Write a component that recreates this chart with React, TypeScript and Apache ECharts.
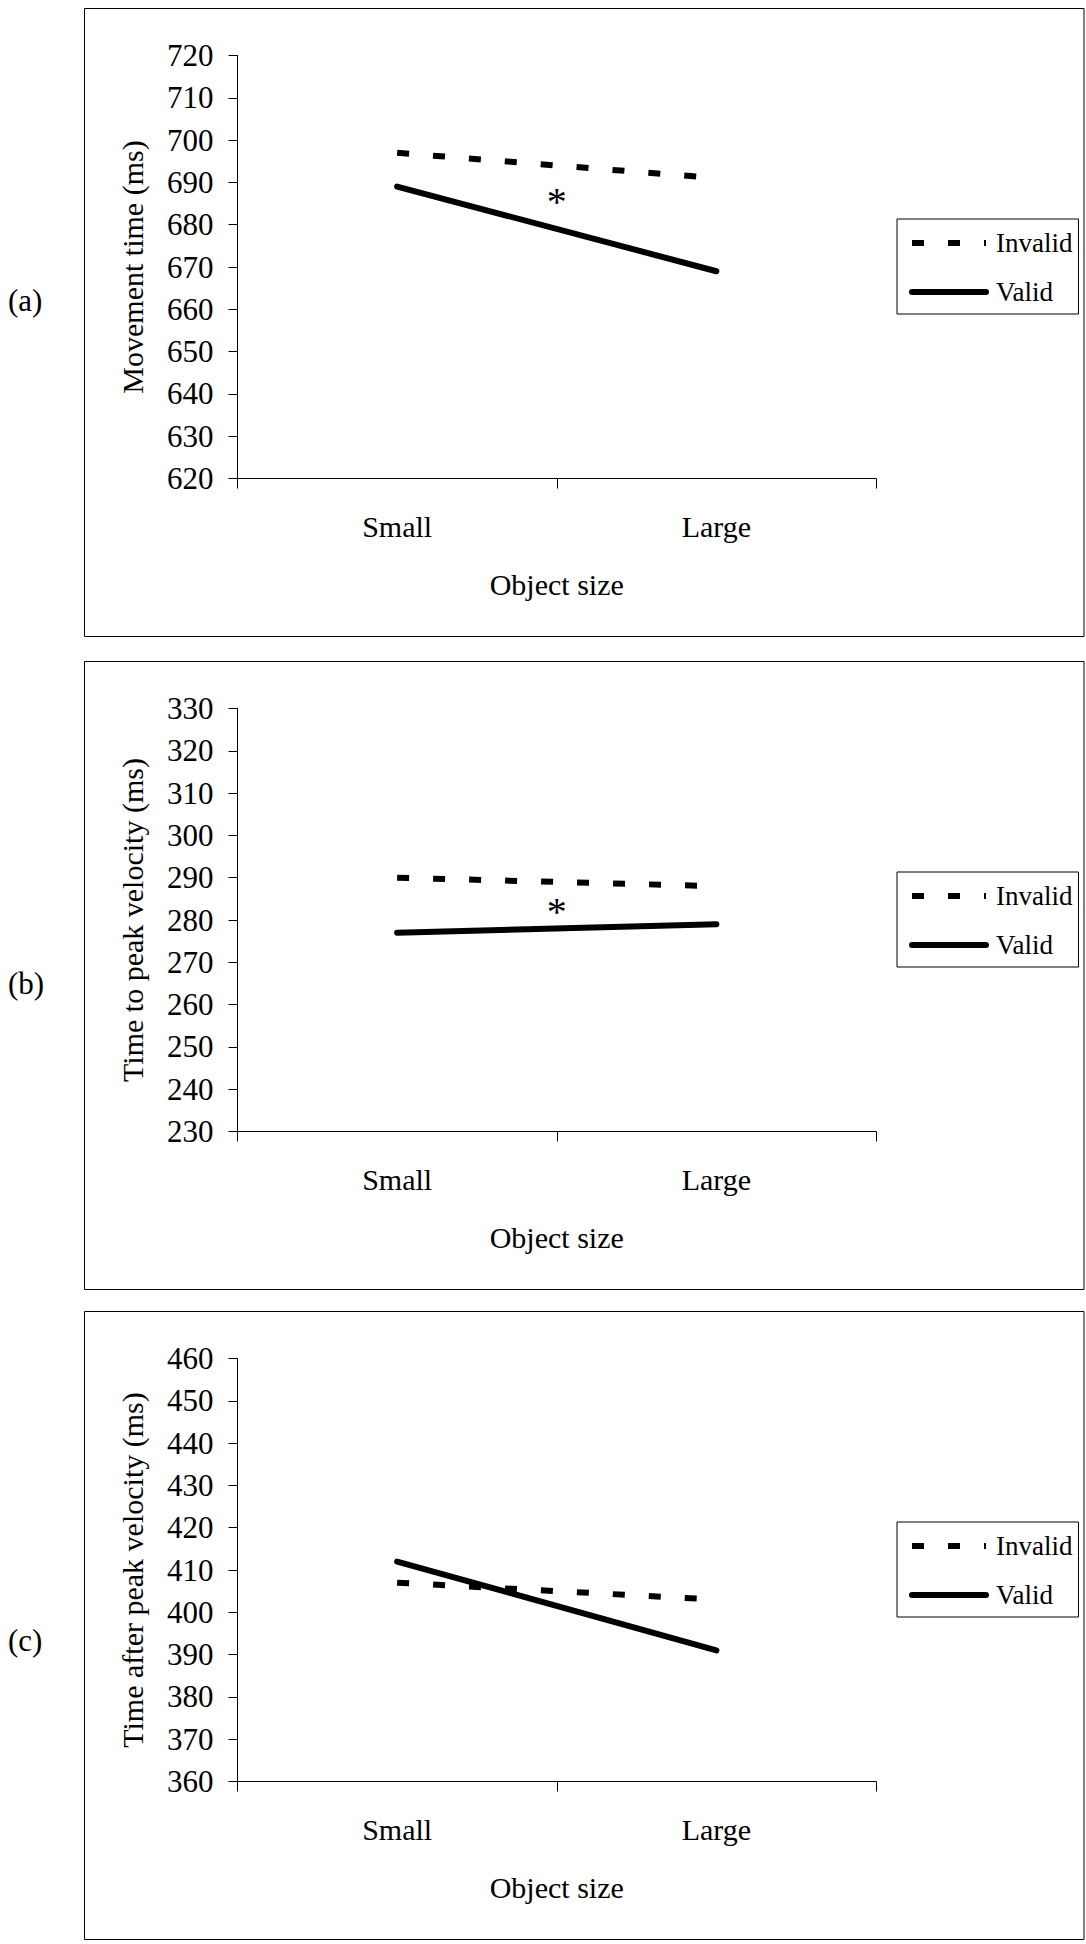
import React, { useEffect, useRef } from "react";
import * as echarts from "echarts";

// ---- data ----
const categories = ["Small", "Large"];
const seriesNames = ["Invalid", "Valid"];
const movementInvalid = [697, 691];
const movementValid = [689, 669];
const peakInvalid = [290, 288];
const peakValid = [277, 279];
const afterInvalid = [407, 403];
const afterValid = [412, 391];
const panelLabels = ["(a)", "(b)", "(c)"];
const yTitles = [
  "Movement time (ms)",
  "Time to peak velocity (ms)",
  "Time after peak velocity (ms)",
];
const yMins = [620, 230, 360];
const yMaxs = [720, 330, 460];
const yStep = 10;
const xTitle = "Object size";
const asteriskValues = [686.5, 283, null];

// ---- layout / style ----
const FONT = "Liberation Serif";
const W = 1086;
const H = 1944;
const panelTops = [8.5, 661.5, 1311.5];
const panelHeight = 628;
const panelLeft = 84.5;
const panelWidth = 999.5;
const gridLeft = 237.5;
const gridWidth = 638.5;
const gridOffset = 47;
const gridHeight = 423;
const legendOffset = 210.5;
const labelYs = [300, 983, 1640];

const invalidLine = { color: "#000", width: 6, type: [12, 24] as number[], cap: "butt" as const };
const validLine = { color: "#000", width: 6, type: "solid" as const, cap: "round" as const };

export default function App() {
  const ref = useRef<HTMLDivElement>(null);
  useEffect(() => {
    if (!ref.current) return;
    const chart = echarts.init(ref.current, undefined, { renderer: "svg" });
    const seriesData = [
      [movementInvalid, movementValid],
      [peakInvalid, peakValid],
      [afterInvalid, afterValid],
    ];
    const grids: any[] = [];
    const xAxes: any[] = [];
    const yAxes: any[] = [];
    const series: any[] = [];
    const legends: any[] = [];
    for (let i = 0; i < 3; i++) {
      const top = panelTops[i];
      grids.push({ left: gridLeft, top: top + gridOffset, width: gridWidth, height: gridHeight });
      xAxes.push({
        type: "category",
        gridIndex: i,
        data: categories,
        boundaryGap: true,
        axisLine: { show: true, lineStyle: { color: "#000", width: 1 } },
        axisTick: { show: true, length: 10, lineStyle: { color: "#000", width: 1 } },
        axisLabel: { fontSize: 30, fontFamily: FONT, color: "#000", margin: 33 },
        splitLine: { show: false },
        name: xTitle,
        nameLocation: "middle",
        nameGap: 91,
        nameTextStyle: { fontSize: 30, fontFamily: FONT, color: "#000" },
      });
      yAxes.push({
        type: "value",
        gridIndex: i,
        min: yMins[i],
        max: yMaxs[i],
        interval: yStep,
        axisLine: { show: true, lineStyle: { color: "#000", width: 1 } },
        axisTick: { show: true, length: 9, lineStyle: { color: "#000", width: 1 } },
        axisLabel: { fontSize: 31, fontFamily: FONT, color: "#000", margin: 24 },
        splitLine: { show: false },
        name: yTitles[i],
        nameLocation: "middle",
        nameGap: 90,
        nameRotate: 90,
        nameTextStyle: { fontSize: 30, fontFamily: FONT, color: "#000" },
      });
      series.push({
        type: "line",
        name: seriesNames[0],
        xAxisIndex: i,
        yAxisIndex: i,
        data: seriesData[i][0],
        symbol: "none",
        lineStyle: invalidLine,
        itemStyle: { color: "#000" },
      });
      series.push({
        type: "line",
        name: seriesNames[1],
        xAxisIndex: i,
        yAxisIndex: i,
        data: seriesData[i][1],
        symbol: "none",
        lineStyle: validLine,
        itemStyle: { color: "#000" },
      });
      legends.push({
        orient: "vertical",
        left: 897,
        top: top + legendOffset,
        padding: [9, 6, 7, 12],
        itemWidth: 74,
        itemHeight: 14,
        itemGap: 19,
        borderColor: "#000",
        borderWidth: 1,
        selectedMode: false,
        textStyle: { fontSize: 27, fontFamily: FONT, color: "#000", lineHeight: 30, padding: [0, 0, 0, 5] },
        data: [
          { name: seriesNames[0], lineStyle: invalidLine, itemStyle: { opacity: 0 } },
          { name: seriesNames[1], lineStyle: validLine, itemStyle: { opacity: 0 } },
        ],
      });
    }
    chart.setOption({
      animation: false,
      backgroundColor: "#fff",
      textStyle: { fontFamily: FONT },
      grid: grids,
      xAxis: xAxes,
      yAxis: yAxes,
      series,
      legend: legends,
    });
    const graphics: any[] = [];
    for (let i = 0; i < 3; i++) {
      graphics.push({
        type: "rect",
        silent: true,
        shape: { x: panelLeft, y: panelTops[i], width: panelWidth, height: panelHeight },
        style: { fill: "none", stroke: "#000", lineWidth: 1 },
      });
      graphics.push({
        type: "text",
        silent: true,
        x: 8,
        y: labelYs[i],
        style: { text: panelLabels[i], fontSize: 31, fontFamily: FONT, fill: "#000", verticalAlign: "middle", align: "left" },
      });
      const av = asteriskValues[i];
      if (av !== null) {
        const py = chart.convertToPixel({ yAxisIndex: i } as any, av) as number;
        graphics.push({
          type: "text",
          silent: true,
          x: gridLeft + gridWidth / 2,
          y: py + 4,
          style: { text: "*", fontSize: 40, fontFamily: FONT, fill: "#000", verticalAlign: "middle", align: "center" },
        });
      }
    }
    chart.setOption({ graphic: graphics });
    return () => chart.dispose();
  }, []);
  return <div ref={ref} style={{ position: "absolute", left: 0, top: 0, width: W, height: H }} />;
}
